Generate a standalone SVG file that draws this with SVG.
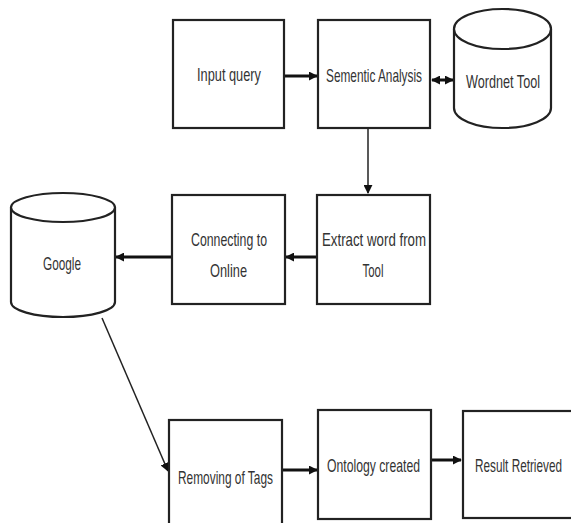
<svg xmlns="http://www.w3.org/2000/svg" width="571" height="523" viewBox="0 0 571 523">
<defs>
<style>
.box{fill:#fff;stroke:#222;stroke-width:2.2}
.cyl{fill:#fff;stroke:#222;stroke-width:2.2}
.t{font-family:"Liberation Sans",Arial,sans-serif;font-size:19px;fill:#333;text-anchor:middle}
.thick{stroke:#111;stroke-width:3;fill:none}
.thin{stroke:#222;stroke-width:1.5;fill:none}
</style>
<marker id="ah" viewBox="0 0 10 10" refX="9" refY="5" markerUnits="userSpaceOnUse" markerWidth="9" markerHeight="9" orient="auto-start-reverse">
<path d="M0,0 L10,5 L0,10 Z" fill="#111"/>
</marker>
</defs>
<rect width="571" height="523" fill="#fff"/>
<g id="connectors">
<line class="thick" x1="285" y1="76" x2="317" y2="76" marker-end="url(#ah)"/>
<line class="thick" x1="432" y1="80" x2="453" y2="80" marker-start="url(#ah)" marker-end="url(#ah)"/>
<line class="thin" x1="368" y1="129" x2="368" y2="193" marker-end="url(#ah)"/>
<line class="thick" x1="316" y1="257" x2="286" y2="257" marker-end="url(#ah)"/>
<line class="thick" x1="171" y1="257" x2="116" y2="257" marker-end="url(#ah)"/>
<line class="thin" x1="102" y1="318" x2="168" y2="471" marker-end="url(#ah)"/>
<line class="thick" x1="283" y1="470" x2="317" y2="470" marker-end="url(#ah)"/>
<line class="thick" x1="432" y1="460" x2="461" y2="460" marker-end="url(#ah)"/>
</g>
<g id="input-query">
<rect class="box" x="173" y="20" width="111" height="108"/>
<text class="t" x="229" y="81" textLength="64" lengthAdjust="spacingAndGlyphs">Input query</text>
</g>
<g id="semantic-analysis">
<rect class="box" x="318" y="20" width="112" height="108"/>
<text class="t" x="374" y="82" textLength="96" lengthAdjust="spacingAndGlyphs">Sementic Analysis</text>
</g>
<g id="wordnet-tool">
<path class="cyl" d="M454,29 L454,108 A48.5,20 0 0 0 551,108 L551,29"/>
<ellipse class="cyl" cx="502.5" cy="29" rx="48.5" ry="20"/>
<text class="t" x="503" y="88" textLength="74" lengthAdjust="spacingAndGlyphs">Wordnet Tool</text>
</g>
<g id="extract-word">
<rect class="box" x="317" y="195" width="113" height="109"/>
<text class="t" x="374" y="246" textLength="104" lengthAdjust="spacingAndGlyphs">Extract word from</text>
<text class="t" x="373" y="277" textLength="21" lengthAdjust="spacingAndGlyphs">Tool</text>
</g>
<g id="connecting-online">
<rect class="box" x="172" y="195" width="113" height="109"/>
<text class="t" x="229" y="246" textLength="76" lengthAdjust="spacingAndGlyphs">Connecting to</text>
<text class="t" x="228.5" y="277" textLength="37" lengthAdjust="spacingAndGlyphs">Online</text>
</g>
<g id="google">
<path class="cyl" d="M11,207.5 L11,302 A52,15 0 0 0 115,302 L115,207.5"/>
<ellipse class="cyl" cx="63" cy="207.5" rx="52" ry="14.5"/>
<text class="t" x="62" y="270" textLength="38" lengthAdjust="spacingAndGlyphs">Google</text>
</g>
<g id="removing-tags">
<rect class="box" x="169" y="420" width="113" height="110"/>
<text class="t" x="225.5" y="484" textLength="95" lengthAdjust="spacingAndGlyphs">Removing of Tags</text>
</g>
<g id="ontology-created">
<rect class="box" x="318" y="410" width="113" height="109"/>
<text class="t" x="373.5" y="472" textLength="93" lengthAdjust="spacingAndGlyphs">Ontology created</text>
</g>
<g id="result-retrieved">
<rect class="box" x="463" y="411" width="112" height="107"/>
<text class="t" x="518.5" y="472" textLength="87" lengthAdjust="spacingAndGlyphs">Result Retrieved</text>
</g>
</svg>
